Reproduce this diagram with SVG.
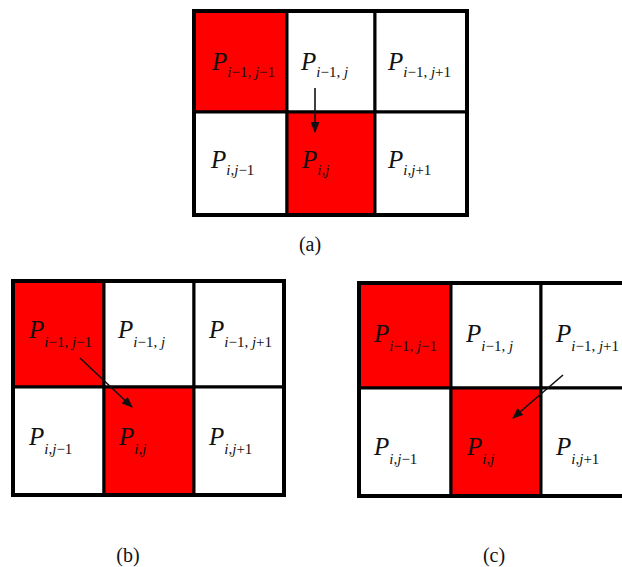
<svg xmlns="http://www.w3.org/2000/svg" width="622" height="567" viewBox="0 0 622 567">
<style>
.bg{fill:#ffffff}
.w{fill:#ffffff;stroke:#000;stroke-width:3}
.r{fill:#fe0000;stroke:#000;stroke-width:3}
.frame{fill:none;stroke:#000;stroke-width:4}
.P{font-family:'Liberation Serif','Tinos','Times New Roman',serif;font-style:italic;font-size:25px;fill:#111}
.s{font-size:15px}
.u{font-style:normal}
.lbl{font-family:'Liberation Serif','Tinos','Times New Roman',serif;font-size:20px;fill:#111;text-anchor:middle}
.arr{stroke:#111;stroke-width:1.6;fill:none;marker-end:url(#ah)}
</style>
<defs>
<marker id="ah" markerUnits="userSpaceOnUse" markerWidth="11" markerHeight="9" refX="10" refY="4.5" orient="auto">
<path d="M0,0 L11,4.5 L0,9 z" fill="#111"/>
</marker>
</defs>
<rect class="bg" x="0" y="0" width="622" height="567"/>

<!-- Grid (a) -->
<g id="grid-a">
<g id="a-p11"><rect class="r" x="194" y="11" width="93" height="101"/><text class="P" x="212" y="70">P<tspan class="s" dy="7">i<tspan class="u">−1, </tspan>j<tspan class="u">−1</tspan></tspan></text></g>
<g id="a-p12"><rect class="w" x="287" y="11" width="88" height="101"/><text class="P" x="301" y="70">P<tspan class="s" dy="7">i<tspan class="u">−1, </tspan>j</tspan></text></g>
<g id="a-p13"><rect class="w" x="375" y="11" width="92" height="101"/><text class="P" x="388" y="70">P<tspan class="s" dy="7">i<tspan class="u">−1, </tspan>j<tspan class="u">+1</tspan></tspan></text></g>
<g id="a-p21"><rect class="w" x="194" y="112" width="93" height="103"/><text class="P" x="211" y="168">P<tspan class="s" dy="7">i<tspan class="u">,</tspan>j<tspan class="u">−1</tspan></tspan></text></g>
<g id="a-p22"><rect class="r" x="287" y="112" width="88" height="103"/><text class="P" x="302" y="168">P<tspan class="s" dy="7">i<tspan class="u">,</tspan>j</tspan></text></g>
<g id="a-p23"><rect class="w" x="375" y="112" width="92" height="103"/><text class="P" x="388" y="168">P<tspan class="s" dy="7">i<tspan class="u">,</tspan>j<tspan class="u">+1</tspan></tspan></text></g>
<rect class="frame" x="194" y="11" width="273" height="204"/>
</g>
<text id="label-a" class="lbl" x="310" y="251">(a)</text>

<!-- Grid (b) -->
<g id="grid-b">
<g id="b-p11"><rect class="r" x="13" y="281" width="91" height="106"/><text class="P" x="29" y="338">P<tspan class="s" dy="9">i<tspan class="u">−1, </tspan>j<tspan class="u">−1</tspan></tspan></text></g>
<g id="b-p12"><rect class="w" x="104" y="281" width="90" height="106"/><text class="P" x="118" y="338">P<tspan class="s" dy="9">i<tspan class="u">−1, </tspan>j</tspan></text></g>
<g id="b-p13"><rect class="w" x="194" y="281" width="90" height="106"/><text class="P" x="209" y="338">P<tspan class="s" dy="9">i<tspan class="u">−1, </tspan>j<tspan class="u">+1</tspan></tspan></text></g>
<g id="b-p21"><rect class="w" x="13" y="387" width="91" height="108"/><text class="P" x="29" y="445">P<tspan class="s" dy="9">i<tspan class="u">,</tspan>j<tspan class="u">−1</tspan></tspan></text></g>
<g id="b-p22"><rect class="r" x="104" y="387" width="90" height="108"/><text class="P" x="119" y="445">P<tspan class="s" dy="9">i<tspan class="u">,</tspan>j</tspan></text></g>
<g id="b-p23"><rect class="w" x="194" y="387" width="90" height="108"/><text class="P" x="209" y="445">P<tspan class="s" dy="9">i<tspan class="u">,</tspan>j<tspan class="u">+1</tspan></tspan></text></g>
<rect class="frame" x="13" y="281" width="271" height="214"/>
</g>
<text id="label-b" class="lbl" x="128" y="562">(b)</text>

<!-- Grid (c) -->
<g id="grid-c">
<g id="c-p11"><rect class="r" x="359" y="283" width="92" height="105"/><text class="P" x="374" y="342">P<tspan class="s" dy="9">i<tspan class="u">−1, </tspan>j<tspan class="u">−1</tspan></tspan></text></g>
<g id="c-p12"><rect class="w" x="451" y="283" width="90" height="105"/><text class="P" x="466" y="342">P<tspan class="s" dy="9">i<tspan class="u">−1, </tspan>j</tspan></text></g>
<g id="c-p13"><rect class="w" x="541" y="283" width="100" height="105"/><text class="P" x="556" y="342">P<tspan class="s" dy="9">i<tspan class="u">−1, </tspan>j<tspan class="u">+1</tspan></tspan></text></g>
<g id="c-p21"><rect class="w" x="359" y="388" width="92" height="108"/><text class="P" x="374" y="455">P<tspan class="s" dy="9">i<tspan class="u">,</tspan>j<tspan class="u">−1</tspan></tspan></text></g>
<g id="c-p22"><rect class="r" x="451" y="388" width="90" height="108"/><text class="P" x="467" y="455">P<tspan class="s" dy="9">i<tspan class="u">,</tspan>j</tspan></text></g>
<g id="c-p23"><rect class="w" x="541" y="388" width="100" height="108"/><text class="P" x="556" y="455">P<tspan class="s" dy="9">i<tspan class="u">,</tspan>j<tspan class="u">+1</tspan></tspan></text></g>
<rect class="frame" x="359" y="283" width="282" height="213"/>
</g>
<text id="label-c" class="lbl" x="494" y="562">(c)</text>

<!-- Connectors -->
<g id="connectors">
<line class="arr" x1="315" y1="88" x2="315" y2="132"/>
<line class="arr" x1="80" y1="358" x2="132" y2="407"/>
<line class="arr" x1="563" y1="375" x2="513" y2="418"/>
</g>
</svg>
